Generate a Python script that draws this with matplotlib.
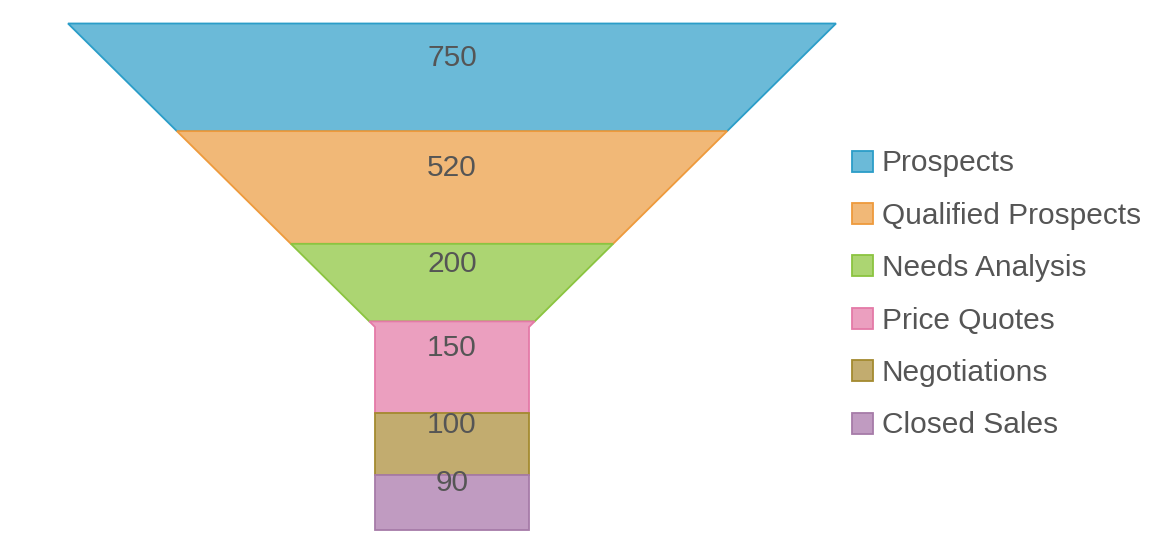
"""
Sales funnel: six pipeline stages drawn as a funnel with a neck,
segment areas proportional to the stage values, legend on the right.
"""

import numpy as np
import matplotlib.pyplot as plt
from matplotlib.patches import Polygon, Rectangle

# Data
stages = ["Prospects", "Qualified Prospects", "Needs Analysis",
          "Price Quotes", "Negotiations", "Closed Sales"]
values = [750, 520, 200, 150, 100, 90]

# Colours (fill, outline)
fills = ["#6bbad8", "#f1b877", "#acd572", "#eb9fbf", "#c2ac6f", "#c09bc1"]
edges = ["#2b9dc8", "#ee9a3c", "#8bc440", "#e47aa7", "#a48a2f", "#a67ba8"]

TEXT = "#555555"
plt.rcParams['font.family'] = ['Liberation Sans', 'DejaVu Sans']

# Funnel shape (in figure pixel units)
CX = 452.0
TOP = 23.5
TOP_W = 768.0
NECK_W = 154.0
CONE_H = 303.5
NECK_H = 203.0
SLOPE = (TOP_W - NECK_W) / (2 * CONE_H)   # half-width shrink per unit depth
CONE_AREA = (TOP_W + NECK_W) / 2 * CONE_H
TOTAL_AREA = CONE_AREA + NECK_W * NECK_H


def half_width(d):
    """Half width of the funnel at depth d below the top edge."""
    if d <= CONE_H:
        return TOP_W / 2 - SLOPE * d
    return NECK_W / 2


def depth_for_area(a):
    """Depth at which the area above reaches a."""
    if a <= CONE_AREA:
        # TOP_W*d - SLOPE*d^2 = a
        return (TOP_W - np.sqrt(TOP_W ** 2 - 4 * SLOPE * a)) / (2 * SLOPE)
    return CONE_H + (a - CONE_AREA) / NECK_W


def segment_outline(d0, d1):
    """Polygon vertices for the slice between depths d0 and d1."""
    depths = [d0]
    if d0 < CONE_H < d1:
        depths.append(CONE_H)
    depths.append(d1)
    right = [(CX + half_width(d), TOP + d) for d in depths]
    left = [(CX - half_width(d), TOP + d) for d in reversed(depths)]
    return right + left


fig = plt.figure(figsize=(11.7, 5.5), dpi=100)
ax = fig.add_axes([0, 0, 1, 1])
ax.set_xlim(0, 1170)
ax.set_ylim(550, 0)
ax.axis("off")

cum = np.concatenate([[0], np.cumsum(values)]) / np.sum(values) * TOTAL_AREA
for i, (val, fc, ec) in enumerate(zip(values, fills, edges)):
    d0 = depth_for_area(cum[i])
    d1 = depth_for_area(cum[i + 1])
    ax.add_patch(Polygon(segment_outline(d0, d1), closed=True,
                         facecolor=fc, edgecolor=ec, linewidth=1.3,
                         joinstyle="miter"))
    mid = TOP + (d0 + d1) / 2
    ax.text(CX, mid - 11, str(val), ha="center", va="baseline",
            fontsize=21.5, color=TEXT)

# Legend
LEG_X = 852
LEG_Y0 = 161
LEG_STEP = 52.4
BOX = 21
for i, (name, fc, ec) in enumerate(zip(stages, fills, edges)):
    y = LEG_Y0 + i * LEG_STEP
    ax.add_patch(Rectangle((LEG_X, y - BOX / 2), BOX, BOX,
                           facecolor=fc, edgecolor=ec, linewidth=1.3))
    ax.text(LEG_X + 30, y + 10.4, name, ha="left", va="baseline",
            fontsize=21.5, color=TEXT)

fig.savefig("out.png", dpi=100)
